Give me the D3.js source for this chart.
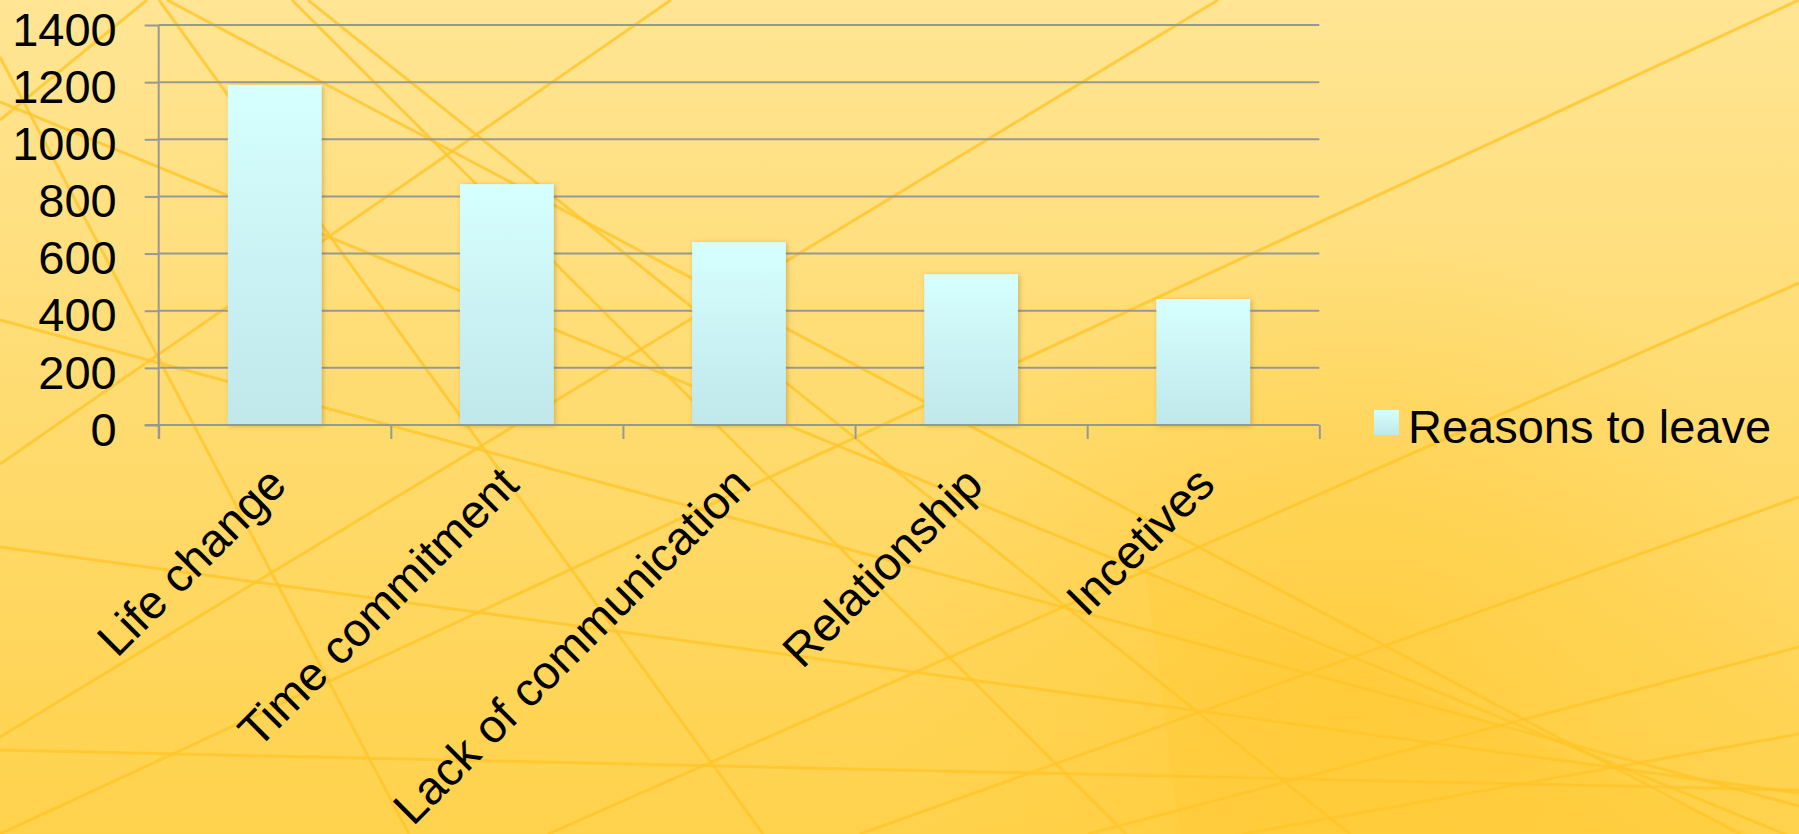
<!DOCTYPE html>
<html>
<head>
<meta charset="utf-8">
<script src="https://cdn.jsdelivr.net/npm/d3@7"></script>
<style>
  html, body { margin: 0; padding: 0; overflow: hidden; background: #FFE08A; }
  svg { display: block; }
  text { font-family: "Liberation Sans", Arial, sans-serif; fill: #000; }
</style>
</head>
<body>
<svg id="chart" width="1799" height="834"></svg>
<script>
// Chart data
const categories = ["Life change", "Time commitment", "Lack of communication", "Relationship", "Incetives"];
const reasonsToLeave = [1190, 843, 640, 528, 441];
const seriesName = "Reasons to leave";
const yTickValues = [0, 200, 400, 600, 800, 1000, 1200, 1400];

// Decorative background strokes (slide theme), as [x1, y1, x2, y2]
const themeStrokes = [
  [0, 120, 147, 0],
  [0, 464, 671, 0],
  [0, 57, 409, 834],
  [159, 0, 763, 834],
  [1218, 0, 0, 737],
  [1799, 0, 0, 834],
  [1799, 283, 548, 834],
  [1799, 497, 860, 834],
  [1799, 647, 1088, 834],
  [1799, 734, 1243, 834],
  [0, 750, 1799, 790],
  [0, 547, 1799, 793],
  [0, 102, 1799, 840],
  [308, 0, 1350, 834],
  [292, 0, 1126, 834],
  [167, 0, 1740, 834],
  [0, 320, 1799, 806]
];

const W = 1799, H = 834;
const svg = d3.select("#chart");
const defs = svg.append("defs");

// Background gradients
const bg = defs.append("linearGradient").attr("id", "bgGrad")
  .attr("x1", 0).attr("y1", 0).attr("x2", 0).attr("y2", 1);
bg.append("stop").attr("offset", "0%").attr("stop-color", "#FFE594");
bg.append("stop").attr("offset", "100%").attr("stop-color", "#FFD24C");

const glow = defs.append("radialGradient").attr("id", "glowGrad")
  .attr("cx", 1350).attr("cy", 690).attr("r", 460)
  .attr("gradientUnits", "userSpaceOnUse");
glow.append("stop").attr("offset", "0%").attr("stop-color", "#FFC62A").attr("stop-opacity", 0.55);
glow.append("stop").attr("offset", "100%").attr("stop-color", "#FFC62A").attr("stop-opacity", 0);

// Bar fill
const barGrad = defs.append("linearGradient").attr("id", "barGrad")
  .attr("x1", 0).attr("y1", 0).attr("x2", 0).attr("y2", 1);
barGrad.append("stop").attr("offset", "0%").attr("stop-color", "#D6FFFF");
barGrad.append("stop").attr("offset", "100%").attr("stop-color", "#C0E7EA");

const shadow = defs.append("filter").attr("id", "barShadow")
  .attr("x", "-20%").attr("y", "-10%").attr("width", "140%").attr("height", "120%");
shadow.append("feDropShadow").attr("dx", 1.5).attr("dy", 1).attr("stdDeviation", 2.5)
  .attr("flood-color", "#7a5a00").attr("flood-opacity", 0.35);

svg.append("rect").attr("width", W).attr("height", H).attr("fill", "url(#bgGrad)");
svg.append("rect").attr("width", W).attr("height", H).attr("fill", "url(#glowGrad)");
svg.append("path")
  .attr("d", "M1146,574 L1799,855 L1799,834 L1180,834 Z")
  .attr("fill", "#FFC826").attr("opacity", 0.18);

svg.append("g").selectAll("line").data(themeStrokes).join("line")
  .attr("x1", d => d[0]).attr("y1", d => d[1])
  .attr("x2", d => d[2]).attr("y2", d => d[3])
  .attr("stroke", "#FFC62A").attr("stroke-opacity", 0.8)
  .attr("stroke-width", 3);

// Plot area
const plot = { left: 158.7, right: 1319.3, top: 25, bottom: 425 };

const x = d3.scaleBand().domain(categories).range([plot.left, plot.right]).padding(0);
const xEdge = d3.scaleLinear().domain([0, categories.length]).range([plot.left, plot.right]);
const y = d3.scaleLinear().domain([0, 1400]).range([plot.bottom, plot.top]);

const gridColor = "#979797";
const fontSize = 47;

// Horizontal gridlines
svg.append("g").selectAll("line").data(yTickValues.filter(v => v > 0)).join("line")
  .attr("x1", plot.left).attr("x2", plot.right)
  .attr("y1", d => y(d)).attr("y2", d => y(d))
  .attr("stroke", gridColor).attr("stroke-width", 2);

// Bars
const barFrac = 0.404;
svg.append("g").selectAll("rect").data(categories).join("rect")
  .attr("x", (c) => x(c) + x.bandwidth() * (1 - barFrac) / 2)
  .attr("width", x.bandwidth() * barFrac)
  .attr("y", (c, i) => y(reasonsToLeave[i]))
  .attr("height", (c, i) => y(0) - y(reasonsToLeave[i]))
  .attr("fill", "url(#barGrad)")
  .attr("filter", "url(#barShadow)");

// Y axis
const yAxis = svg.append("g").attr("transform", `translate(${plot.left},0)`)
  .call(d3.axisLeft(y).tickValues(yTickValues).tickSize(14).tickPadding(28).tickFormat(d3.format("d")));
yAxis.select(".domain").attr("stroke", gridColor).attr("stroke-width", 2)
  .attr("d", `M0,${plot.top}V${plot.bottom + 14}`);
yAxis.selectAll(".tick line").attr("stroke", gridColor).attr("stroke-width", 2);
yAxis.selectAll(".tick text")
  .attr("font-size", fontSize).attr("fill", "#000").attr("dy", "0.43em")
  .style("font-family", '"Liberation Sans", Arial, sans-serif');

// X axis with ticks on category boundaries
const xAxis = svg.append("g").attr("transform", `translate(0,${plot.bottom})`)
  .call(d3.axisBottom(xEdge).tickValues(d3.range(0, categories.length + 1)).tickSize(14).tickFormat(""));
xAxis.select(".domain").attr("stroke", gridColor).attr("stroke-width", 2)
  .attr("d", `M${plot.left - 14},0H${plot.right}`);
xAxis.selectAll(".tick line").attr("stroke", gridColor).attr("stroke-width", 2);

// Category labels, rotated
svg.append("g").selectAll("text").data(categories).join("text")
  .attr("transform", c => `translate(${x(c) + x.bandwidth() / 2 + 14},487) rotate(-45)`)
  .attr("text-anchor", "end")
  .attr("font-size", fontSize)
  .text(c => c);

// Legend
const legend = svg.append("g").attr("transform", "translate(1374,410)");
legend.append("rect").attr("width", 25).attr("height", 25).attr("fill", "url(#barGrad)");
legend.append("text").attr("x", 34).attr("y", 32.7).attr("font-size", fontSize).text(seriesName);
</script>
</body>
</html>
